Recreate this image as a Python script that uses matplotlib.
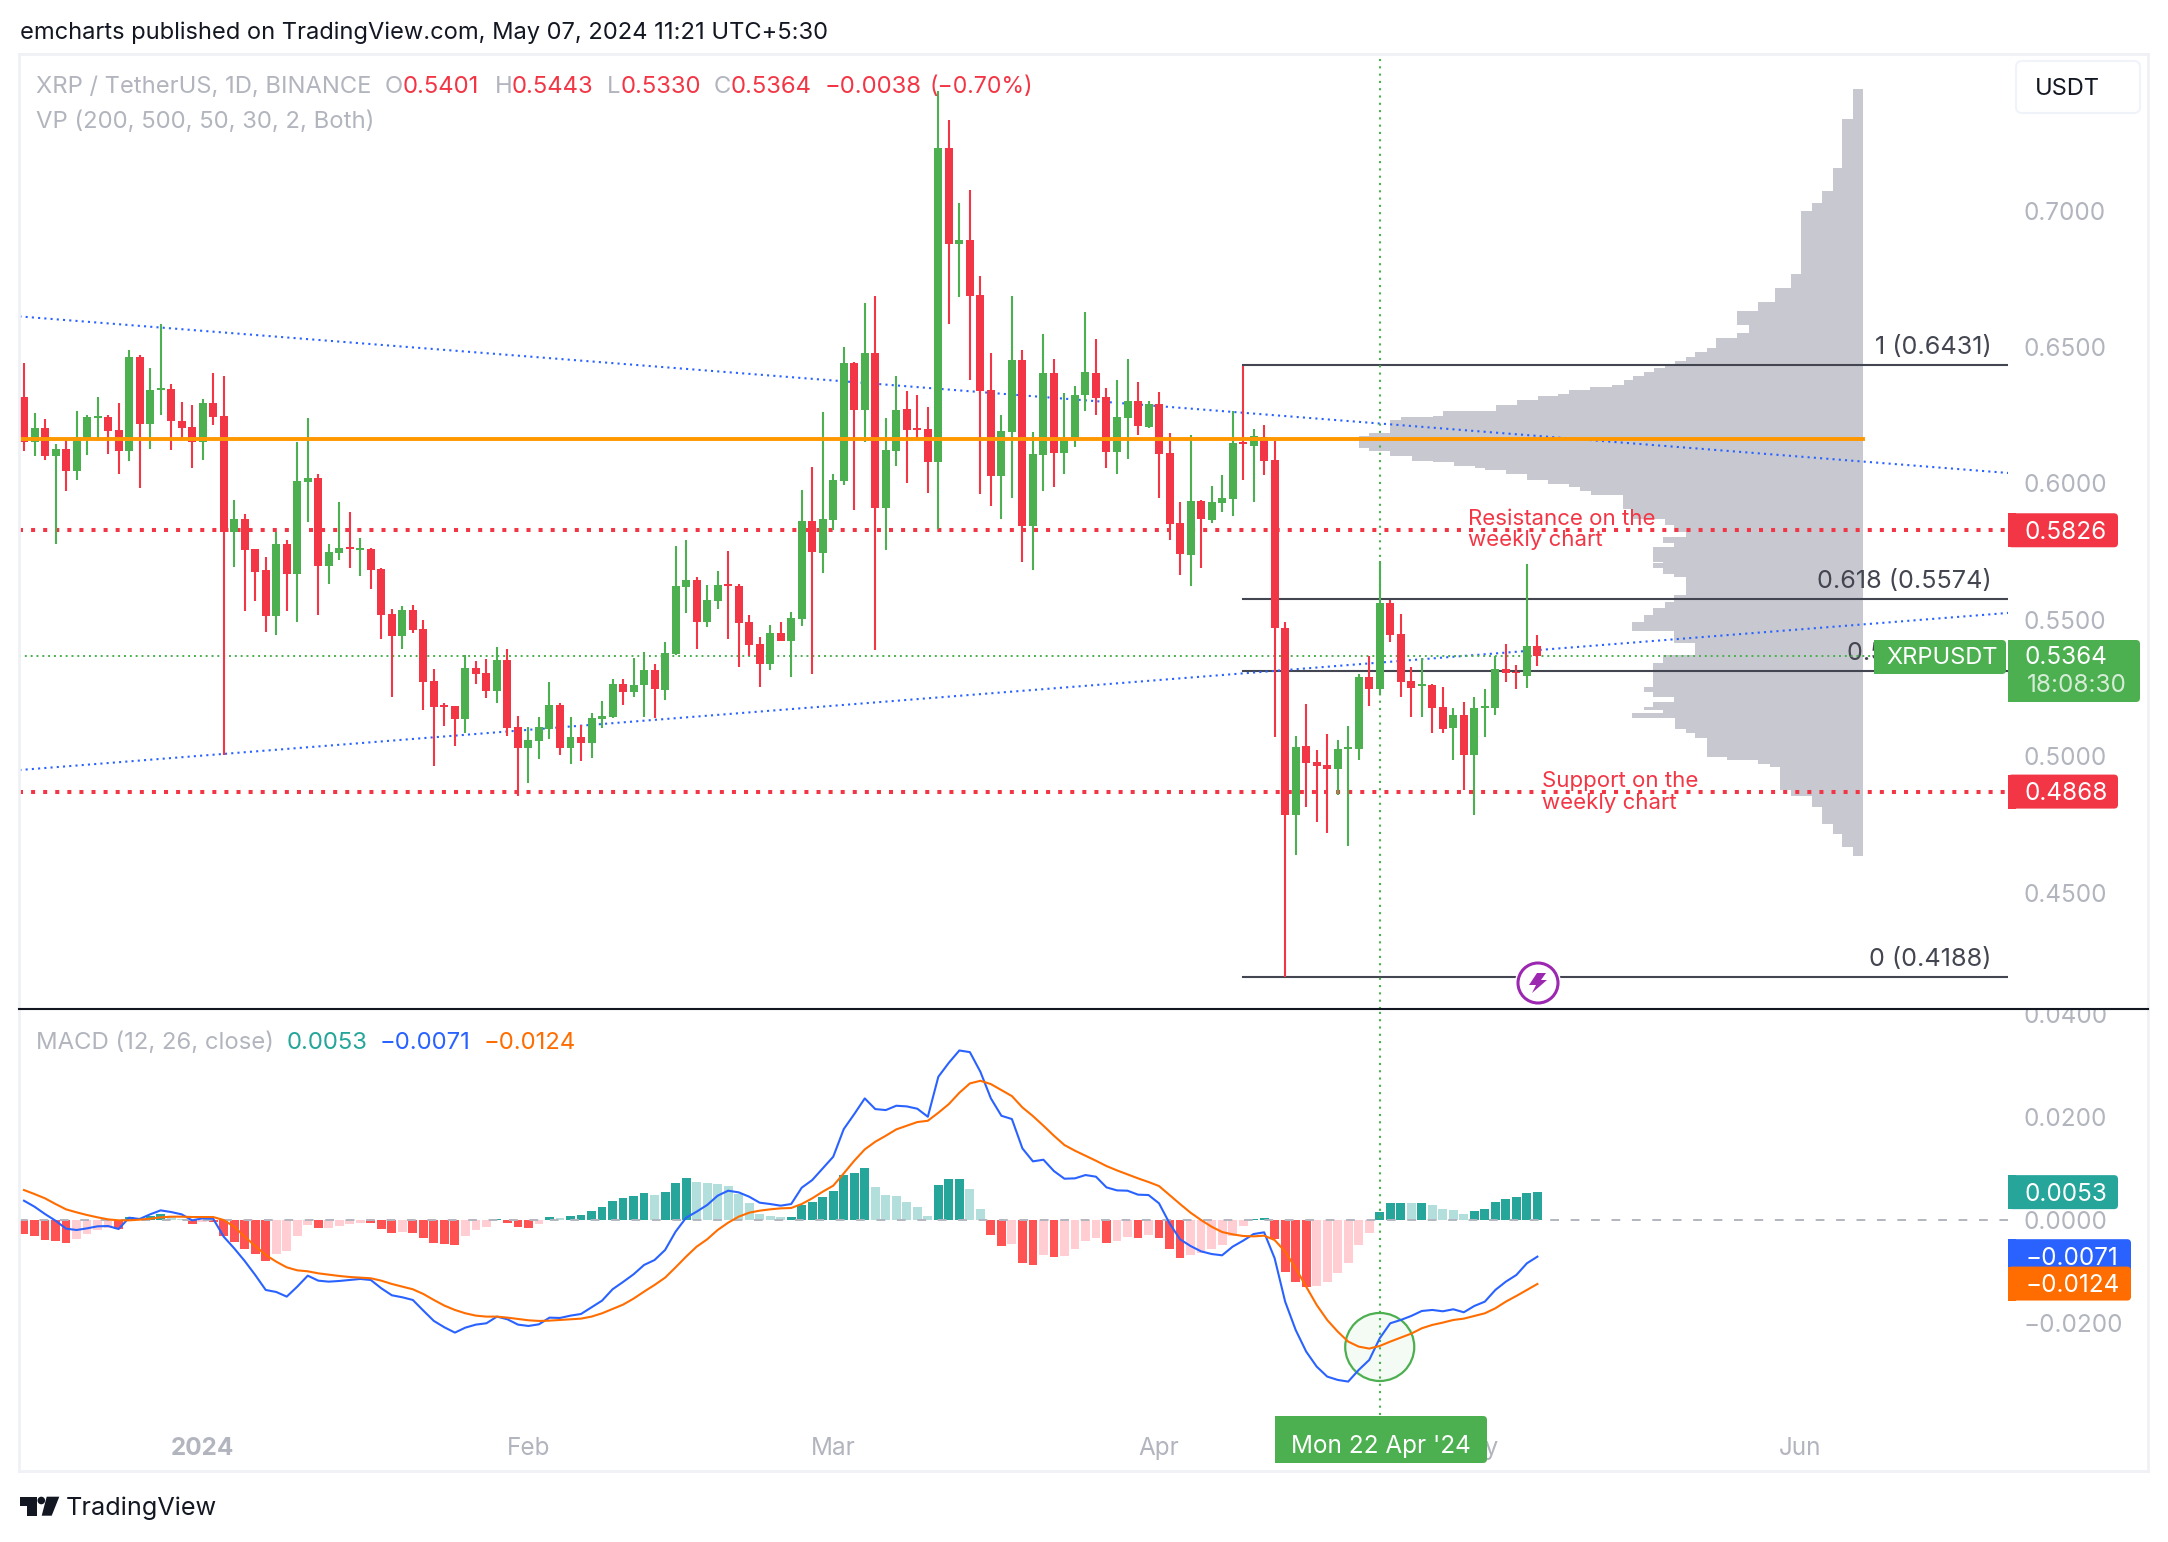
import numpy as np
import matplotlib
matplotlib.use("Agg")
import matplotlib.pyplot as plt
from matplotlib.patches import Ellipse, FancyBboxPatch, Rectangle, Polygon, Circle
from matplotlib.transforms import ScaledTranslation

W, H = 2168, 1542
plt.rcParams['font.family'] = ['Inter', 'DejaVu Sans']

GREEN = "#4CAF50"
RED = "#F23645"
GREY = "#B2B5BE"
BLUE = "#2962FF"
ORANGE = "#FF6D00"
TEAL = "#26A69A"
DARK = "#434651"

# daily candles, XRP/USDT
opens = [.6314, .6151, .6201, .6098, .6124, .6043, .6164, .6239, .6241, .6193, .6116, .6461, .6216, .6342, .6343,
         .6227, .6204, .6151, .6293, .6245, .5819, .5867, .5758, .5681, .5511, .5775, .5665, .6003, .6018, .5696,
         .5742, .5765, .5755, .5758, .5684, .5519, .5438, .5534, .5465, .5274, .5186, .5182, .5134, .5321, .5303,
         .5237, .5350, .5105, .5028, .5054, .5098, .5186, .5028, .5068, .5046, .5134, .5142, .5263, .5233, .5259,
         .5314, .5240, .5373, .5618, .5644, .5490, .5567, .5629, .5622, .5490, .5409, .5336, .5449, .5420, .5501,
         .5860, .5743, .5864, .6007, .6439, .6267, .6476, .5908, .6117, .6271, .6201, .6197, .6076, .7227, .6875,
         .6890, .6688, .6340, .6025, .6186, .6450, .5842, .6102, .6402, .6109, .6164, .6322, .6402, .6315, .6113,
         .6238, .6300, .6204, .6289, .6109, .5853, .5735, .5933, .5864, .5926, .5940, .6149, .6136, .6167, .6084,
         .5467, .4783, .5035, .4976, .4966, .4949, .5024, .5024, .5288, .5243, .5560, .5446, .5274, .5255, .5258,
         .5178, .5101, .5148, .5002, .5175, .5174, .5317, .5307, .5292, .5401]
highs = [.6439, .6256, .6233, .6143, .6164, .6264, .6249, .6314, .6249, .6293, .6487, .6468, .6420, .6582, .6362,
         .6297, .6285, .6307, .6403, .6391, .5937, .5886, .5758, .5729, .5819, .5790, .6150, .6237, .6033, .5775,
         .5929, .5893, .5798, .5761, .5688, .5538, .5548, .5552, .5498, .5317, .5193, .5182, .5369, .5347, .5354,
         .5398, .5391, .5145, .5105, .5142, .5270, .5193, .5142, .5112, .5156, .5200, .5281, .5281, .5358, .5380,
         .5336, .5416, .5768, .5790, .5655, .5625, .5677, .5750, .5629, .5515, .5435, .5479, .5490, .5526, .5974,
         .6058, .6260, .6032, .6498, .6443, .6659, .6685, .6238, .6392, .6337, .6322, .6278, .7436, .7330, .7026,
         .7073, .6758, .6476, .6249, .6685, .6487, .6186, .6545, .6454, .6329, .6355, .6626, .6527, .6348, .6377,
         .6454, .6370, .6300, .6333, .6183, .5930, .6175, .5937, .5988, .6028, .6262, .6428, .6199, .6212, .6155,
         .5488, .5072, .5189, .5021, .5080, .5057, .5108, .5300, .5364, .5714, .5572, .5519, .5325, .5358, .5261,
         .5252, .5174, .5196, .5214, .5244, .5364, .5409, .5333, .5702, .5443]
lows = [.6115, .6098, .6083, .5775, .5970, .6010, .6102, .6155, .6106, .6033, .6079, .5980, .6124, .6249, .6120,
        .6157, .6054, .6083, .6212, .5001, .5692, .5530, .5567, .5453, .5442, .5530, .5490, .5856, .5515, .5629,
        .5717, .5688, .5659, .5611, .5428, .5215, .5392, .5450, .5167, .4962, .5109, .5036, .5084, .5262, .5211,
        .5193, .5072, .4852, .4900, .4988, .5061, .5002, .4969, .4980, .4991, .5101, .5138, .5186, .5215, .5142,
        .5138, .5204, .5369, .5523, .5391, .5471, .5537, .5427, .5325, .5365, .5251, .5314, .5420, .5288, .5475,
        .5299, .5669, .5827, .5992, .5900, .6150, .5387, .5754, .6062, .6000, .6157, .5963, .5831, .6582, .6681,
        .6377, .5959, .5915, .5867, .5944, .5710, .5680, .5970, .5985, .6032, .6131, .6263, .6249, .6054, .6032,
        .6087, .6175, .6201, .5944, .5790, .5662, .5622, .5688, .5853, .5894, .5880, .6012, .5928, .6030, .5069,
        .4189, .4635, .4812, .4755, .4718, .4857, .4667, .4982, .5183, .5222, .5415, .5213, .5140, .5143, .5081,
        .5084, .4985, .4875, .4783, .5069, .5147, .5270, .5243, .5247, .5330]
closes = [.6151, .6201, .6098, .6124, .6043, .6168, .6241, .6244, .6191, .6116, .6461, .6216, .6341, .6346, .6227,
          .6201, .6151, .6293, .6241, .5819, .5867, .5754, .5673, .5511, .5775, .5665, .6006, .6018, .5696, .5746,
          .5761, .5759, .5761, .5681, .5515, .5438, .5534, .5461, .5270, .5178, .5178, .5134, .5321, .5299, .5237,
          .5350, .5101, .5028, .5057, .5105, .5186, .5028, .5068, .5046, .5138, .5145, .5263, .5233, .5259, .5314,
          .5244, .5376, .5622, .5644, .5490, .5570, .5625, .5622, .5486, .5405, .5336, .5449, .5420, .5504, .5860,
          .5746, .5867, .6010, .6439, .6267, .6476, .5908, .6120, .6267, .6194, .6194, .6076, .7227, .6875, .6890,
          .6685, .6337, .6025, .6190, .6450, .5842, .6105, .6402, .6109, .6164, .6322, .6406, .6311, .6113, .6241,
          .6300, .6208, .6289, .6105, .5849, .5739, .5933, .5867, .5930, .5944, .6146, .6143, .6172, .6081, .5466,
          .4783, .5032, .4973, .4961, .4949, .5024, .5032, .5288, .5243, .5560, .5443, .5270, .5247, .5264, .5175,
          .5098, .5148, .5002, .5174, .5181, .5317, .5301, .5301, .5401, .5364]

# MACD pane
hist = [-.00278, -.00323, -.00400, -.00420, -.00458, -.00381, -.00284, -.00207, -.00161, -.00187, .00052, .00032,
        .00077, .00116, .00045, .00019, -.00084, -.00045, -.00052, -.00323, -.00439, -.00574, -.00671, -.00807,
        -.00671, -.00613, -.00323, -.00110, -.00168, -.00161, -.00129, -.00090, -.00071, -.00077, -.00187, -.00265,
        -.00245, -.00265, -.00361, -.00458, -.00477, -.00484, -.00323, -.00207, -.00148, .00019, -.00071, -.00148,
        -.00155, -.00090, .00052, .00039, .00065, .00084, .00161, .00239, .00355, .00413, .00452, .00510, .00471,
        .00529, .00703, .00800, .00722, .00710, .00684, .00645, .00490, .00316, .00103, .00065, .00048, .00055,
        .00284, .00342, .00439, .00555, .00864, .00903, .01000, .00632, .00477, .00458, .00342, .00245, .00071,
        .00671, .00780, .00787, .00593, .00206, -.00303, -.00516, -.00477, -.00845, -.00884, -.00690, -.00729,
        -.00710, -.00574, -.00419, -.00361, -.00458, -.00419, -.00342, -.00361, -.00303, -.00361, -.00574, -.00748,
        -.00690, -.00651, -.00574, -.00497, -.00323, -.00129, .00013, .00032, -.00381, -.01019, -.01213, -.01309,
        -.01290, -.01213, -.01038, -.00845, -.00497, -.00265, .00148, .00322, .00329, .00322, .00329, .00284, .00206,
        .00187, .00110, .00168, .00206, .00342, .00400, .00439, .00516, .00530]
macd_line = [.00364, .00248, .00106, -.00023, -.00177, -.00203, -.00171, -.00132, -.00126, -.00184, .00035, .00010,
             .00100, .00177, .00145, .00100, -.00016, .00023, .00016, -.00332, -.00558, -.00803, -.01074, -.01364,
             -.01403, -.01493, -.01300, -.01087, -.01184, -.01203, -.01190, -.01171, -.01151, -.01171, -.01332,
             -.01467, -.01506, -.01558, -.01764, -.01964, -.02087, -.02190, -.02093, -.02035, -.02009, -.01880,
             -.01932, -.02035, -.02061, -.02029, -.01900, -.01906, -.01861, -.01829, -.01700, -.01571, -.01351,
             -.01209, -.01061, -.00880, -.00784, -.00590, -.00235, .00035, .00152, .00281, .00461, .00558, .00526,
             .00442, .00326, .00300, .00268, .00300, .00616, .00764, .00990, .01216, .01751, .02041, .02345, .02138,
             .02119, .02203, .02190, .02145, .01990, .02764, .03035, .03273, .03241, .02861, .02345, .02009, .01945,
             .01377, .01126, .01158, .00938, .00790, .00797, .00861, .00829, .00622, .00564, .00558, .00481, .00474,
             .00313, -.00074, -.00384, -.00513, -.00616, -.00668, -.00693, -.00526, -.00410, -.00281, -.00248,
             -.00751, -.01590, -.02138, -.02557, -.02848, -.03041, -.03106, -.03138, -.02912, -.02719, -.02299,
             -.02009, -.01945, -.01867, -.01771, -.01751, -.01777, -.01738, -.01796, -.01674, -.01590, -.01364,
             -.01203, -.01074, -.00848, -.00719]
signal_line = [.00571, .00493, .00410, .00300, .00197, .00139, .00087, .00042, .00003, -.00016, -.00016, -.00003,
               .00016, .00042, .00055, .00055, .00048, .00048, .00048, -.00010, -.00139, -.00332, -.00513, -.00687,
               -.00816, -.00926, -.00984, -.01003, -.01042, -.01067, -.01093, -.01113, -.01126, -.01138, -.01184,
               -.01248, -.01300, -.01351, -.01442, -.01558, -.01667, -.01751, -.01816, -.01861, -.01880, -.01880,
               -.01900, -.01925, -.01951, -.01964, -.01958, -.01945, -.01932, -.01919, -.01880, -.01816, -.01732,
               -.01648, -.01532, -.01396, -.01267, -.01126, -.00926, -.00719, -.00526, -.00384, -.00203, -.00061,
               .00055, .00132, .00171, .00197, .00216, .00223, .00300, .00410, .00539, .00655, .00893, .01138, .01358,
               .01506, .01622, .01745, .01816, .01887, .01912, .02067, .02235, .02454, .02635, .02686, .02622, .02506,
               .02390, .02170, .02003, .01816, .01622, .01442, .01332, .01235, .01138, .01035, .00951, .00874, .00797,
               .00726, .00648, .00474, .00300, .00132, -.00010, -.00139, -.00242, -.00287, -.00319, -.00326, -.00313,
               -.00397, -.00622, -.00945, -.01300, -.01654, -.01945, -.02170, -.02364, -.02461, -.02499, -.02448,
               -.02364, -.02287, -.02209, -.02106, -.02041, -.01996, -.01945, -.01919, -.01867, -.01816, -.01719,
               -.01590, -.01480, -.01364, -.01248]

# volume profile: row edges (price, top to bottom) and row size in bar widths
vp_edges = [.7442, .7334, .7154, .7070, .7026, .6996, .6765, .6714, .6663, .6630, .6578, .6549, .6531, .6494, .6479,
            .6461, .6447, .6435, .6421, .6406, .6391, .6377, .6358, .6351, .6340, .6327, .6318, .6303, .6287, .6263,
            .6245, .6241, .6230, .6184, .6173, .6127, .6116, .6100, .6080, .6076, .6062, .6054, .6047, .6034, .6010,
            .5995, .5985, .5970, .5957, .5904, .5867, .5845, .5820, .5801, .5779, .5765, .5710, .5706, .5688, .5666,
            .5655, .5589, .5563, .5541, .5515, .5490, .5457, .5427, .5413, .5369, .5339, .5251, .5233, .5215, .5196,
            .5178, .5167, .5156, .5138, .5098, .5083, .5065, .4995, .4984, .4969, .4958, .4874, .4852, .4812, .4751,
            .4712, .4665, .4632]
vp_volume = [1.0, 2.0, 2.9, 3.9, 4.9, 5.9, 6.9, 8.4, 10.0, 12.0, 10.9, 12.0, 14.0, 14.9, 16.0, 16.9, 17.9, 18.9,
             19.9, 20.9, 21.9, 22.8, 23.9, 26.0, 28.0, 29.0, 30.9, 32.9, 34.9, 40.0, 40.9, 44.0, 45.0, 47.0, 48.0,
             47.0, 45.0, 42.9, 40.9, 38.9, 36.9, 36.0, 34.0, 32.0, 30.0, 28.0, 26.9, 25.9, 22.9, 22.0, 18.9, 18.0,
             16.9, 19.0, 18.0, 20.0, 19.0, 20.0, 19.0, 18.0, 16.9, 18.0, 18.9, 20.0, 20.9, 22.0, 18.0, 18.0, 16.0,
             19.0, 20.0, 20.9, 20.0, 18.0, 20.0, 20.9, 19.0, 22.0, 17.9, 16.9, 16.0, 14.9, 13.0, 10.0, 8.9, 7.9, 6.9,
             4.9, 3.9, 2.9, 2.0, 1.0]
VP_RIGHT = 175

poc_price = 0.6161
resistance = 0.5826
support = 0.4868
last_price = 0.5364
fib_levels = [0.6431, 0.5574, 0.5310, 0.4188]
fib_labels = ["1 (0.6431)", "0.618 (0.5574)", "0.5 (0.5310)", "0 (0.4188)"]
FIB_START = 116
upper_trend_x, upper_trend_y = [-0.44, 188.8], [.6610, .6036]
lower_trend_x, lower_trend_y = [-0.44, 188.8], [.4947, .5523]
CURSOR_BAR = 129

price_ticks = [0.45, 0.50, 0.55, 0.60, 0.65, 0.70]
macd_ticks = [0.04, 0.02, 0.0, -0.02]
month_pos = [17, 48, 77, 108, 138, 169]
month_labels = ["2024", "Feb", "Mar", "Apr", "May", "Jun"]


def axes_rect(left, top, right, bottom):
    return [left / W, 1 - bottom / H, (right - left) / W, (bottom - top) / H]


def fmt(v):
    return f"{v:.4f}".replace("-", "\u2212")


fig = plt.figure(figsize=(W / 100, H / 100), dpi=100, facecolor="white")
ax = fig.add_axes(axes_rect(19, 54, 2008, 1009))
macd = fig.add_axes(axes_rect(19, 1009, 2008, 1415))
for a in (ax, macd):
    a.set_xlim(-0.476, 188.78)
    for s in a.spines.values():
        s.set_visible(False)
    a.yaxis.tick_right()
    a.tick_params(axis="y", length=0, pad=11.5, labelsize=17.5, labelcolor=GREY)
    a.tick_params(axis="x", length=0, pad=15.5, labelsize=17.5, labelcolor=GREY)
ax.set_ylim(0.4071, 0.7572)
macd.set_ylim(-0.03785, 0.04076)

bars = np.arange(len(opens))
o, h, l, c = map(np.array, (opens, highs, lows, closes))
colors = np.where(c >= o, GREEN, RED)

# volume profile first, everything sits on it
edges = np.array(vp_edges)[::-1]
ax.stairs(VP_RIGHT - np.array(vp_volume)[::-1], edges, baseline=VP_RIGHT, fill=True,
          orientation="horizontal", color="#C8C9D0", zorder=1, lw=0)

ax.vlines(bars, l, h, colors=colors, lw=1.5, zorder=3)
ax.bar(bars, np.abs(c - o), bottom=np.minimum(c, o), width=0.76, color=colors, zorder=3, lw=0)

for level, label_text in zip(fib_levels, fib_labels):
    ax.plot([FIB_START, 188.78], [level, level], color=DARK, lw=1.5, zorder=2.5)
    ax.annotate(label_text, xy=(187.2, level), xytext=(0, 4.5), textcoords="offset points", ha="right", va="bottom",
                fontsize=18.1, color=DARK, zorder=2.6)

ax.plot(upper_trend_x, upper_trend_y, color=BLUE, lw=1.5, ls=(0, (1, 2)), zorder=2.8)
ax.plot(lower_trend_x, lower_trend_y, color=BLUE, lw=1.5, ls=(0, (1, 2)), zorder=2.8)
for level in (resistance, support):
    ax.axhline(level, color=RED, lw=2.9, ls=(0, (1, 2)), zorder=2.9)
ax.axhline(last_price, color=GREEN, lw=1.4, ls=(0, (1, 2)), zorder=2.9)
ax.plot([-0.476, VP_RIGHT], [poc_price, poc_price], color="#FF9800", lw=2.8, zorder=4)
for a in (ax, macd):
    a.axvline(CURSOR_BAR, color=GREEN, lw=1.5, ls=(0, (1, 2.5)), zorder=2.9)

ax.text(137.4, 0.5868, "Resistance on the", color=RED, fontsize=16, va="center", zorder=5)
ax.text(137.4, 0.5790, "weekly chart", color=RED, fontsize=16, va="center", zorder=5)
ax.text(144.4, 0.4907, "Support on the", color=RED, fontsize=16, va="center", zorder=5)
ax.text(144.4, 0.4828, "weekly chart", color=RED, fontsize=16, va="center", zorder=5)

ax.set_yticks(price_ticks, [fmt(v) for v in price_ticks])
ax.set_xticks([])

# MACD histogram, colour follows sign and direction
hist_arr = np.array(hist)
prev = np.r_[hist_arr[0], hist_arr[:-1]]
hist_colors = []
for v, p in zip(hist_arr, prev):
    if v >= 0:
        hist_colors.append(TEAL if v >= p else "#B2DFDB")
    else:
        hist_colors.append("#FF5252" if v <= p else "#FFCDD2")
macd.bar(bars, hist_arr, width=0.84, color=hist_colors, lw=0, zorder=2)
macd.axhline(0, color=GREY, lw=1.4, ls=(0, (4.5, 6)), zorder=2.5)
macd.plot(bars, macd_line, color=BLUE, lw=1.5, zorder=4)
macd.plot(bars, signal_line, color=ORANGE, lw=1.5, zorder=4)
macd.add_patch(Ellipse((CURSOR_BAR, -0.02468), 6.57, 0.01317, fc=GREEN, alpha=0.06, lw=0, zorder=3))
macd.add_patch(Ellipse((CURSOR_BAR, -0.02468), 6.57, 0.01317, fc="none", ec=GREEN, lw=1.6, zorder=3))
macd.set_yticks(macd_ticks, [fmt(v) for v in macd_ticks])
macd.set_xticks(month_pos, month_labels)
macd.get_xticklabels()[0].set_fontweight("bold")

# nudge the price scale text down a touch
nudge = ScaledTranslation(0, -0.6 / 100, fig.dpi_scale_trans)
for a in (ax, macd):
    for lbl in a.get_yticklabels():
        lbl.set_transform(lbl.get_transform() + nudge)

# page furniture and price scale labels go on a pixel-sized overlay
ov = fig.add_axes([0, 0, 1, 1], facecolor="none")
ov.set_xlim(0, W)
ov.set_ylim(H, 0)
ov.axis("off")


def price_y(axis, value):
    return H - axis.transData.transform((0, value))[1]


def label(x, y, s, color, size=17.2, **kw):
    # text sits about 2px high with va=center in this font
    ov.text(x, y + 2, s, color=color, fontsize=size, va="center", zorder=6, **kw)


def tag(x0, x1, y0, y1, color):
    ov.add_patch(FancyBboxPatch((x0, y0), x1 - x0, y1 - y0, boxstyle="round,pad=0,rounding_size=4",
                                fc=color, ec="none", zorder=5))
    ov.add_patch(Rectangle((x0, y0), 8, y1 - y0, fc=color, ec="none", zorder=5))


def scale_tag(axis, value, color, x1=2118):
    y = price_y(axis, value)
    tag(2008, x1, y - 17, y + 17, color)
    label(2025, y, fmt(value), "white", 17.5)


# chart frame
for x0, y0, x1, y1 in [(19, 54, 2148, 54), (19, 1471, 2148, 1471), (19, 54, 19, 1471), (2148, 54, 2148, 1471)]:
    ov.plot([x0, x1], [y0, y1], color="#F0F1F6", lw=2, zorder=1)
ov.add_patch(Rectangle((2010, 985), 136, 23, fc="white", ec="none", zorder=2))
ov.plot([19, 2148], [1009, 1009], color="#131722", lw=1.5, zorder=3)

label(20, 31, "emcharts published on TradingView.com, May 07, 2024 11:21 UTC+5:30", "#131722", 17.05)

label(36, 85, "XRP / TetherUS, 1D, BINANCE", GREY, 17.1)
legend_row = [(385, "O", GREY), (403, "0.5401", RED), (495, "H", GREY), (512, "0.5443", RED), (607, "L", GREY),
              (621, "0.5330", RED), (714, "C", GREY), (731, "0.5364", RED), (825, "\u22120.0038", RED)]
for x, s, col in legend_row:
    label(x, 85, s, col)
label(930, 85, "(\u22120.70%)", RED, 16.6)
label(36, 120, "VP (200, 500, 50, 30, 2, Both)", GREY, 17.2)
macd_legend = [(36, "MACD (12, 26, close)", GREY), (287, "0.0053", TEAL), (380, "\u22120.0071", BLUE),
               (484, "\u22120.0124", ORANGE)]
for x, s, col in macd_legend:
    label(x, 1041, s, col)

# USDT button
ov.add_patch(FancyBboxPatch((2016, 61), 124, 52, boxstyle="round,pad=0,rounding_size=6", fc="white", ec="#F0F3FA", lw=1.5))
label(2035, 87, "USDT", "#131722", 17)

scale_tag(ax, resistance, RED)
scale_tag(ax, support, RED)
tag(1874, 2006, 640, 674, GREEN)
label(1886, 656, "XRPUSDT", "white", 17)
tag(2008, 2140, 640, 702, GREEN)
label(2025, 656, "0.5364", "white", 17.5)
label(2027, 684, "18:08:30", "#D5ECD6", 17.5)
scale_tag(macd, 0.0053, TEAL)
scale_tag(macd, -0.0071, BLUE, 2131)
scale_tag(macd, -0.0124, ORANGE, 2131)

# date cursor
tag(1275, 1487, 1416, 1463, GREEN)
label(1381, 1445, "Mon 22 Apr '24", "white", 17.5, ha="center")

# alert icon on the last bar
ov.add_patch(Circle((1538, 983), 23, fc="white", ec="none", zorder=6))
ov.add_patch(Circle((1538, 983), 20, fc="white", ec="#9C27B0", lw=2.2, zorder=7))
bolt = np.array([(-1, -10), (8, -10), (3, -3), (9, -3), (-6, 10), (-2, 2), (-9, 2)]) + (1538, 983)
ov.add_patch(Polygon(bolt, fc="#9C27B0", ec="none", zorder=8))

# TradingView mark
ov.add_patch(Polygon([(20, 1496.7), (36.7, 1496.7), (36.7, 1515.7), (27.3, 1515.7), (27.3, 1505.7), (20, 1505.7)],
                     fc="#131722", ec="none"))
ov.add_patch(Circle((41.3, 1500.5), 3.8, fc="#131722", ec="none"))
ov.add_patch(Polygon([(46.7, 1496.7), (59.3, 1496.7), (51.7, 1515.7), (41.7, 1515.7)], fc="#131722", ec="none"))
label(66, 1506, "TradingView", "#131722", 18.2)

fig.savefig("out.png", dpi=100, facecolor="white")
